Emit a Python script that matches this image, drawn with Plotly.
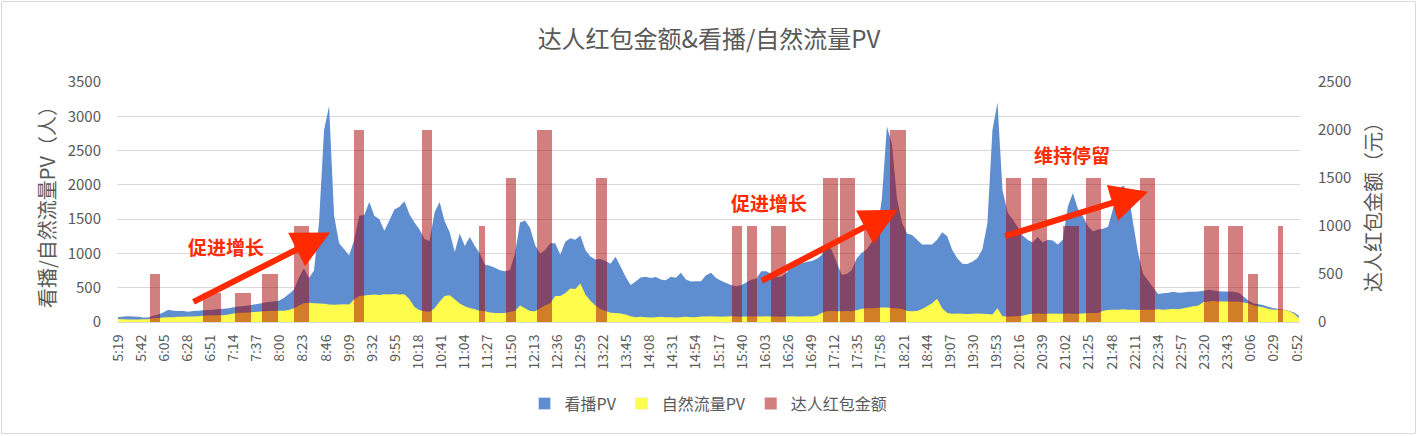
import plotly.graph_objects as go

# ---------------- data ----------------
start_time = "5:19"
step_minutes = 5  # sampling interval of the PV series

blue_pv = [
    70, 80, 85, 80, 75, 65, 65, 90, 110, 140,
    180, 165, 160, 160, 150, 160, 165, 170, 175, 180,
    190, 195, 200, 215, 225, 235, 240, 255, 265, 280,
    290, 300, 310, 350, 410, 470, 650, 780, 640, 750,
    1450, 2800, 3150, 1550, 1150, 1060, 970, 1200, 1550, 1560,
    1750, 1550, 1500, 1330, 1480, 1640, 1680, 1760, 1570, 1450,
    1350, 1210, 1180, 1600, 1750, 1470, 1310, 1020, 1290, 1110,
    1240, 1110, 1000, 840, 820, 790, 755, 740, 760, 1000,
    1450, 1480, 1370, 1120, 1000, 1050, 1150, 1150, 980, 1170,
    1220, 1200, 1260, 1050, 955, 910, 920, 890, 850, 950,
    810, 660, 540, 590, 650, 660, 640, 655, 620, 610,
    660, 645, 720, 620, 590, 595, 595, 680, 720, 640,
    600, 570, 540, 520, 535, 575, 615, 630, 740, 740,
    700, 660, 660, 720, 810, 840, 855, 875, 890, 920,
    975, 1140, 1050, 870, 690, 700, 760, 930, 1010, 1060,
    1170, 1280, 1800, 2850, 2600, 1800, 1450, 1290, 1270, 1200,
    1130, 1130, 1130, 1200, 1310, 1250, 1050, 930, 850, 845,
    880, 930, 1060, 1440, 2800, 3200, 1925, 1600, 1500, 1390,
    1260, 1200, 1160, 1240, 1160, 1200, 1190, 1130, 1200, 1680,
    1880, 1650, 1540, 1400, 1320, 1350, 1360, 1390, 1650, 1925,
    1990, 1900, 1440, 1000, 700, 600, 500, 410, 420, 425,
    440, 425, 430, 440, 440, 445, 455, 470, 460, 450,
    445, 445, 440, 425, 370, 310, 270, 260, 245, 220,
    200, 190, 180, 165, 140, 90,
]

natural_pv = [
    45, 40, 35, 35, 35, 40, 40, 55, 60, 65,
    70, 70, 75, 75, 80, 80, 85, 90, 95, 95,
    100, 100, 110, 125, 135, 135, 140, 145, 150, 155,
    160, 160, 165, 165, 175, 200, 240, 275, 280, 275,
    270, 265, 255, 250, 255, 260, 255, 330, 380, 385,
    395, 400, 395, 405, 400, 410, 400, 405, 330, 220,
    170, 155, 150, 200, 300, 380, 390, 330, 270, 230,
    205, 185, 165, 155, 140, 130, 130, 130, 150, 160,
    240, 200, 160, 155, 200, 240, 275, 380, 380, 420,
    490, 480, 560, 400, 310, 240, 190, 160, 135, 130,
    125, 110, 85, 70, 75, 70, 65, 70, 75, 70,
    70, 65, 70, 75, 70, 70, 80, 80, 85, 80,
    75, 80, 85, 80, 75, 80, 85, 80, 80, 85,
    80, 80, 75, 80, 85, 80, 80, 85, 80, 90,
    130, 155, 160, 155, 155, 160, 155, 170, 195, 200,
    200, 205, 210, 210, 200, 200, 190, 160, 155, 160,
    190, 230, 275, 340, 200, 130, 120, 125, 120, 115,
    120, 125, 120, 115, 110, 200, 85, 80, 80, 85,
    90, 110, 120, 125, 120, 120, 125, 120, 120, 125,
    120, 120, 125, 130, 130, 130, 165, 175, 180, 180,
    185, 180, 180, 175, 180, 180, 180, 185, 180, 185,
    190, 185, 200, 215, 230, 240, 290, 300, 305, 300,
    300, 300, 295, 300, 285, 270, 240, 225, 210, 190,
    180, 180, 175, 160, 120, 60,
]

bar_starts = ["5:51", "6:44", "7:15", "7:42", "8:14", "9:14", "10:21", "11:18",
              "11:45", "12:16", "13:15", "15:30", "15:45", "16:09", "17:00",
              "17:17", "17:41", "18:07", "20:02", "20:28", "20:59", "21:22",
              "22:16", "23:19", "23:43", "0:03", "0:33"]
bar_minutes = [10, 17, 16, 16, 15, 10, 10, 6, 10, 15, 11, 10, 10, 15, 15,
               15, 16, 16, 15, 15, 16, 15, 15, 15, 15, 10, 5]
bar_amounts = [500, 300, 300, 500, 1000, 2000, 2000, 1000, 1500, 2000, 1500,
               1000, 1000, 1000, 1500, 1500, 1000, 2000, 1500, 1500, 1000,
               1500, 1500, 1000, 1000, 500, 1000]

tick_labels = ["5:19", "5:42", "6:05", "6:28", "6:51", "7:14", "7:37", "8:00",
               "8:23", "8:46", "9:09", "9:32", "9:55", "10:18", "10:41",
               "11:04", "11:27", "11:50", "12:13", "12:36", "12:59", "13:22",
               "13:45", "14:08", "14:31", "14:54", "15:17", "15:40", "16:03",
               "16:26", "16:49", "17:12", "17:35", "17:58", "18:21", "18:44",
               "19:07", "19:30", "19:53", "20:16", "20:39", "21:02", "21:25",
               "21:48", "22:11", "22:34", "22:57", "23:20", "23:43", "0:06",
               "0:29", "0:52"]

notes = ["促进增长", "促进增长", "维持停留"]


def to_min(t):
    h, m = map(int, t.split(":"))
    s_h, s_m = map(int, start_time.split(":"))
    v = h * 60 + m - (s_h * 60 + s_m)
    if v < 0:
        v += 1440
    return v


x_series = [i * step_minutes for i in range(len(blue_pv))]
bar_x = [to_min(s) + w / 2 for s, w in zip(bar_starts, bar_minutes)]
tick_vals = [to_min(t) for t in tick_labels]

FONT = "Noto Sans CJK SC"
GREY = "#595959"
BLUE = "rgb(94,141,208)"
YELLOW = "rgb(255,252,76)"
RED = "rgba(165,0,0,0.5)"

fig = go.Figure()
fig.add_trace(go.Scatter(
    x=x_series, y=blue_pv, name="看播PV", mode="none", showlegend=False,
    fill="tozeroy", fillcolor=BLUE, yaxis="y"))
fig.add_trace(go.Scatter(
    x=x_series, y=natural_pv, name="自然流量PV", mode="none", showlegend=False,
    fill="tozeroy", fillcolor=YELLOW, yaxis="y"))
# legend entries (square swatches like the original)
fig.add_trace(go.Bar(x=[None], y=[None], name="看播PV",
                     marker=dict(color=BLUE), yaxis="y2"))
fig.add_trace(go.Bar(x=[None], y=[None], name="自然流量PV",
                     marker=dict(color=YELLOW), yaxis="y2"))
fig.add_trace(go.Bar(
    x=bar_x, y=bar_amounts, width=bar_minutes, name="达人红包金额",
    marker=dict(color=RED, line=dict(width=0)), yaxis="y2"))

ARROW = "#FF2A00"
arrows = [((73.6, 283), (211, 1304)),
          ((639, 589), (776, 1638)),
          ((881, 1245), (1025, 1901))]
for (tx, ty), (hx, hy) in arrows:
    fig.add_annotation(x=hx, y=hy, ax=tx, ay=ty, xref="x", yref="y",
                       axref="x", ayref="y", showarrow=True, arrowhead=2,
                       arrowsize=1.25, arrowwidth=6, arrowcolor=ARROW, text="")

note_pos = [(107.5, 1100), (648, 1741), (949, 2440)]
for txt, (nx, ny) in zip(notes, note_pos):
    fig.add_annotation(x=nx, y=ny, xref="x", yref="y", text=txt,
                       showarrow=False,
                       font=dict(family=FONT, size=19, color=ARROW, weight="bold"))

# chart border
L, R, T, B = 117, 118, 82, 114
W, H = 1418, 436
pw, ph = W - L - R, H - T - B
fig.add_shape(type="rect", xref="paper", yref="paper",
              x0=(1.5 - L) / pw, x1=(W - 2.5 - L) / pw,
              y0=-(B - 2.5) / ph, y1=1 + (T - 1.5) / ph,
              line=dict(color="#D9D9D9", width=1), layer="below")

fig.update_layout(
    width=W, height=H,
    margin=dict(l=L, r=R, t=T, b=B, autoexpand=False),
    paper_bgcolor="white", plot_bgcolor="white",
    font=dict(family=FONT, color=GREY),
    title=dict(text="达人红包金额&看播/自然流量PV", x=0.5, xanchor="center",
               y=1 - 40 / H, yanchor="middle", yref="container",
               font=dict(size=24, color=GREY, family=FONT)),
    bargap=0, barmode="overlay",
    showlegend=True,
    legend=dict(orientation="h", x=0.5, xanchor="center", y=-0.34,
                yanchor="middle", font=dict(size=16, color=GREY),
                traceorder="normal"),
    xaxis=dict(range=[-1, 1176], tickmode="array", tickvals=tick_vals,
               ticktext=tick_labels, tickangle=-90, showgrid=False,
               showline=True, linecolor="#D9D9D9", linewidth=1,
               ticks="outside", ticklen=6, tickcolor="rgba(0,0,0,0)",
               tickfont=dict(size=14, color=GREY), zeroline=False),
    yaxis=dict(range=[0, 3500], dtick=500, tick0=0, showgrid=True,
               gridcolor="#D9D9D9", gridwidth=1, zeroline=False,
               ticks="outside", ticklen=12, tickcolor="rgba(0,0,0,0)",
               tickfont=dict(size=15, color=GREY),
               title=dict(text="看播/自然流量PV（人）", standoff=6,
                          font=dict(size=20, color=GREY))),
    yaxis2=dict(range=[0, 2500], dtick=500, tick0=0, overlaying="y",
                side="right", showgrid=False, zeroline=False,
                ticks="outside", ticklen=14, tickcolor="rgba(0,0,0,0)",
                tickfont=dict(size=15, color=GREY),
                title=dict(text="达人红包金额（元）", standoff=16,
                           font=dict(size=20, color=GREY))),
)

fig.write_html("out.html", config={"displayModeBar": False},
               post_script="document.body.style.margin='0';")
